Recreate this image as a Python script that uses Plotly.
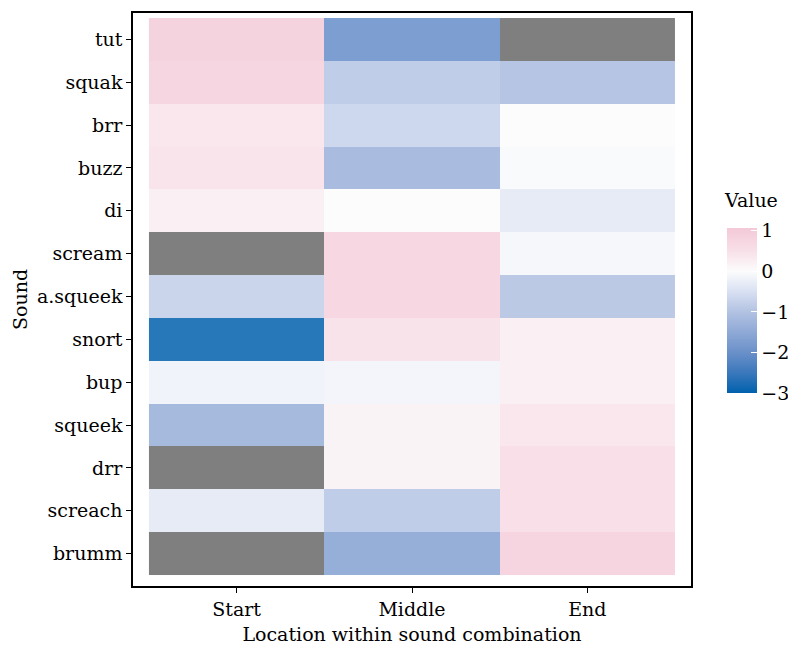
import numpy as np
import plotly.graph_objects as go

sounds = ["tut", "squak", "brr", "buzz", "di", "scream", "a.squeek", "snort",
          "bup", "squeek", "drr", "screach", "brumm"]
locations = ["Start", "Middle", "End"]

start_vals = [1.00, 0.90, 0.45, 0.50, 0.25, None, -0.80, -3.00, -0.20, -1.40, None, -0.35, None]
middle_vals = [-2.05, -0.95, -0.75, -1.35, 0.00, 0.88, 0.88, 0.55, -0.15, 0.20, 0.20, -0.95, -1.65]
end_vals = [None, -1.15, 0.00, -0.05, -0.35, -0.10, -1.05, 0.25, 0.25, 0.45, 0.65, 0.65, 0.95]

z = np.array([[np.nan if v is None else v for v in row]
              for row in zip(start_vals, middle_vals, end_vals)], dtype=float)
na_mask = np.where(np.isnan(z), 1.0, np.nan)

zmin, zmax = -3.0, 1.07
stops = [(-3.0, "#0061ad"), (-2.5, "#3b78bc"), (-2.0, "#6a90c9"), (-1.5, "#8fa9d6"),
         (-1.0, "#b2c2e2"), (-0.5, "#d8e0f2"), (0.0, "#fcfcfc"), (0.5, "#f8e0e8"),
         (1.07, "#f4c9d7")]
colorscale = [[(v - zmin) / (zmax - zmin), c] for v, c in stops]

FONT = "DejaVu Serif"
FS = 19

# plot area in pixels: x 133..691, y 13..586
PW, PH = 558, 573

fig = go.Figure()
fig.add_trace(go.Heatmap(
    x=locations, y=sounds, z=na_mask,
    colorscale=[[0, "#7f7f7f"], [1, "#7f7f7f"]],
    showscale=False, hoverinfo="skip",
))
fig.add_trace(go.Heatmap(
    x=locations, y=sounds, z=z,
    zmin=zmin, zmax=zmax, colorscale=colorscale, opacity=0.85,
    colorbar=dict(
        x=(727 - 133) / PW, xanchor="left",
        y=(586 - 393) / PH, yanchor="bottom",
        len=(393 - 228) / PH, lenmode="fraction",
        thickness=30, thicknessmode="pixels",
        outlinewidth=0,
        tickvals=[1, 0, -1, -2, -3],
        ticks="inside", ticklen=6, tickcolor="white", tickwidth=1,
        tickfont=dict(family=FONT, size=FS, color="black"),
        xpad=0, ypad=0,
    ),
))

fig.add_annotation(
    text="Value", xref="paper", yref="paper",
    x=(722 - 133) / PW, y=(586 - 200) / PH, xanchor="left", yanchor="middle",
    showarrow=False, font=dict(family=FONT, size=FS, color="black"),
)

fig.update_layout(
    width=788, height=645,
    margin=dict(l=133, r=97, t=13, b=59, autoexpand=False),
    paper_bgcolor="white", plot_bgcolor="white",
    font=dict(family=FONT, size=FS, color="black"),
    showlegend=False,
)
fig.update_xaxes(
    type="category", categoryorder="array", categoryarray=locations,
    range=[-0.591, 2.591],
    showline=True, mirror=True, linecolor="black", linewidth=1.5,
    ticks="outside", ticklen=5, tickcolor="black", tickwidth=1.2,
    ticklabelstandoff=0,
    showgrid=False, zeroline=False,
    tickfont=dict(family=FONT, size=FS, color="black"),
    title=dict(text="Location within sound combination", font=dict(family=FONT, size=FS, color="black"), standoff=9),
)
fig.update_yaxes(
    type="category", categoryorder="array", categoryarray=sounds,
    range=[12.757, -0.617],
    showline=True, mirror=True, linecolor="black", linewidth=1.5,
    ticks="outside", ticklen=5, tickcolor="black", tickwidth=1.2,
    showgrid=False, zeroline=False,
    tickfont=dict(family=FONT, size=FS, color="black"),
    title=dict(text="Sound", font=dict(family=FONT, size=FS, color="black"), standoff=4),
)

fig.write_html("out.html", post_script="document.body.style.margin='0';",
               config={"displayModeBar": False})
